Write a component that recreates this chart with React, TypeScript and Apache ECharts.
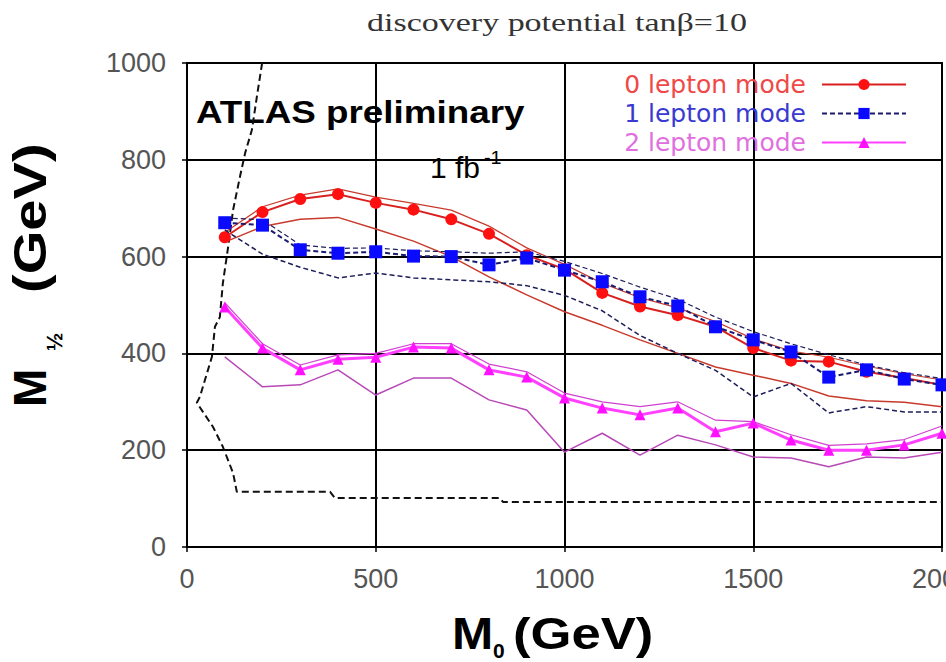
import React, { useEffect, useRef } from "react";
import * as echarts from "echarts";

// ---- axis ticks ----
const xMin = 0;
const xMax = 2000;
const xStep = 500;
const yMin = 0;
const yMax = 1000;
const yStep = 200;

// ---- legend / series names ----
const modeNames = ["0 lepton mode", "1 lepton mode", "2 lepton mode"];

// ---- 0 lepton mode (red) ----
const lep0Main: [number, number][] = [
  [100, 640], [200, 692], [300, 719], [400, 729], [500, 711], [600, 697], [700, 677],
  [800, 647], [900, 603], [1000, 574], [1100, 525], [1200, 497], [1300, 479], [1400, 455],
  [1500, 411], [1600, 385], [1700, 383], [1800, 362], [1900, 349], [2000, 335],
];
const lep0Upper: [number, number][] = [
  [100, 650], [200, 703], [300, 727], [400, 740], [500, 723], [600, 710], [700, 696],
  [800, 663], [900, 618], [1000, 584], [1100, 545], [1200, 515], [1300, 494], [1400, 466],
  [1500, 430], [1600, 405], [1700, 392], [1800, 374], [1900, 358], [2000, 345],
];
const lep0Lower: [number, number][] = [
  [100, 630], [200, 662], [300, 677], [400, 681], [500, 657], [600, 632], [700, 600],
  [800, 558], [900, 521], [1000, 486], [1100, 458], [1200, 428], [1300, 400], [1400, 372],
  [1500, 355], [1600, 338], [1700, 312], [1800, 302], [1900, 299], [2000, 290],
];

// ---- 1 lepton mode (blue) ----
const lep1Main: [number, number][] = [
  [100, 670], [200, 665], [300, 614], [400, 607], [500, 610], [600, 601], [700, 600],
  [800, 583], [900, 597], [1000, 572], [1100, 548], [1200, 517], [1300, 498], [1400, 455],
  [1500, 428], [1600, 403], [1700, 351], [1800, 366], [1900, 347], [2000, 335],
];
const lep1Upper: [number, number][] = [
  [100, 680], [200, 676], [300, 624], [400, 617], [500, 618], [600, 612], [700, 610],
  [800, 607], [900, 610], [1000, 590], [1100, 565], [1200, 537], [1300, 512], [1400, 475],
  [1500, 445], [1600, 420], [1700, 397], [1800, 376], [1900, 360], [2000, 348],
];
const lep1Lower: [number, number][] = [
  [100, 655], [200, 605], [300, 578], [400, 556], [500, 566], [600, 556], [700, 552],
  [800, 548], [900, 540], [1000, 520], [1100, 488], [1200, 437], [1300, 400], [1400, 365],
  [1500, 310], [1600, 338], [1700, 277], [1800, 290], [1900, 279], [2000, 279],
];

// ---- 2 lepton mode (magenta) ----
const lep2Main: [number, number][] = [
  [100, 496], [200, 411], [300, 366], [400, 388], [500, 392], [600, 413], [700, 411],
  [800, 366], [900, 351], [1000, 308], [1100, 287], [1200, 273], [1300, 287], [1400, 238],
  [1500, 256], [1600, 221], [1700, 200], [1800, 200], [1900, 211], [2000, 235],
];
const lep2Upper: [number, number][] = [
  [100, 505], [200, 420], [300, 376], [400, 397], [500, 400], [600, 420], [700, 420],
  [800, 378], [900, 362], [1000, 318], [1100, 300], [1200, 290], [1300, 300], [1400, 262],
  [1500, 259], [1600, 232], [1700, 210], [1800, 213], [1900, 222], [2000, 250],
];
const lep2Lower: [number, number][] = [
  [100, 393], [200, 331], [300, 335], [400, 366], [500, 314], [600, 349], [700, 349],
  [800, 304], [900, 283], [1000, 196], [1100, 235], [1200, 190], [1300, 231], [1400, 211],
  [1500, 186], [1600, 184], [1700, 166], [1800, 186], [1900, 184], [2000, 196],
];

// ---- excluded region boundary (black dashed) ----
const excludedBoundary: [number, number][] = [
  [199, 1000], [185, 930], [172, 862], [154, 814], [140, 764], [122, 696], [109, 620],
  [95, 545], [87, 475], [74, 455], [66, 393], [34, 310], [26, 298], [69, 248], [95, 207],
  [122, 153], [132, 114], [379, 114], [392, 101], [829, 101], [837, 93], [2000, 93],
];

const SANS = "'Liberation Sans', Arial, Helvetica, sans-serif";
const SERIF = "'Liberation Serif', 'Times New Roman', serif";

function thinLine(name: string, data: [number, number][], color: string, width: number, type: any, z: number) {
  return {
    name,
    type: "line",
    data,
    symbol: "none",
    lineStyle: { color, width, type },
    z,
    silent: true,
  };
}

function txt(x: number, y: number, text: string, fontSize: number, opts: any = {}) {
  const { scaleX, bold, family, fill, align } = opts;
  return {
    type: "text",
    x,
    y,
    scaleX: scaleX ?? 1,
    silent: true,
    style: {
      text,
      fontFamily: family ?? SANS,
      fontWeight: bold ? "bold" : "normal",
      fontSize,
      fill: fill ?? "#000",
      align: align ?? "left",
      verticalAlign: "middle",
      textAlign: align ?? "left",
      textVerticalAlign: "middle",
    },
  };
}

export default function App() {
  const ref = useRef<HTMLDivElement>(null);

  useEffect(() => {
    const chart = echarts.init(ref.current!, null, { renderer: "svg" });

    const axisCommon = {
      type: "value",
      axisLine: { show: true, onZero: false, lineStyle: { color: "#000", width: 2 } },
      axisTick: { show: true, length: 5, lineStyle: { color: "#000", width: 1.5 } },
      splitLine: { show: true, lineStyle: { color: "#000", width: 2 } },
    };

    const option: any = {
      animation: false,
      backgroundColor: "#ffffff",
      grid: {
        left: 187,
        right: 4,
        top: 63,
        bottom: 115,
        containLabel: false,
        outerBoundsMode: "none",
        show: true,
        borderColor: "#000",
        borderWidth: 2,
        backgroundColor: "transparent",
      },
      xAxis: {
        ...axisCommon,
        min: xMin,
        max: xMax,
        interval: xStep,
        axisLabel: {
          color: "#555",
          fontSize: 27,
          fontFamily: SANS,
          margin: 18,
          formatter: (v: number) => String(v),
        },
      },
      yAxis: {
        ...axisCommon,
        min: yMin,
        max: yMax,
        interval: yStep,
        axisLabel: {
          color: "#555",
          fontSize: 27,
          fontFamily: SANS,
          margin: 21,
          formatter: (v: number) => String(v),
        },
      },
      legend: {
        orient: "vertical",
        align: "right",
        right: 39,
        top: 72,
        padding: 0,
        itemGap: 4,
        itemWidth: 84,
        itemHeight: 14,
        selectedMode: false,
        textStyle: { fontFamily: "'DejaVu Sans', sans-serif", fontSize: 25, padding: [0, 11, 0, 0] },
        data: [
          { name: modeNames[0], textStyle: { color: "#f04848" } },
          { name: modeNames[1], textStyle: { color: "#3a3ad0" } },
          { name: modeNames[2], textStyle: { color: "#e070e0" } },
        ],
      },
      graphic: [
        txt(557, 22, "discovery potential tanβ=10", 25, {
          scaleX: 1.36,
          family: SERIF,
          fill: "#333",
          align: "center",
        }),
        txt(196, 112, "ATLAS preliminary", 32, { scaleX: 1.15, bold: true }),
        txt(430, 167, "1 fb", 30, { scaleX: 1.0 }),
        txt(484, 158, "-1", 18, { scaleX: 1.1 }),
        // x axis title: M0 (GeV)
        txt(452, 633, "M", 45, { scaleX: 1.1, bold: true }),
        txt(493, 650, "0", 21, { bold: true }),
        txt(513, 633, "(GeV)", 45, { scaleX: 1.17, bold: true }),
        // y axis title: M1/2 (GeV), rotated
        {
          type: "group",
          x: 30,
          y: 407,
          rotation: Math.PI / 2,
          silent: true,
          children: [
            txt(0, 0, "M", 46, { bold: true }),
            txt(56, 24, "½", 22, { bold: true }),
            txt(114, 0, "(GeV)", 46, { scaleX: 1.22, bold: true }),
          ],
        },
      ],
      series: [
        thinLine("excluded", excludedBoundary, "#111", 2, [7, 4], 2),
        thinLine("2 lepton lower", lep2Lower, "#b848b8", 1.5, "solid", 3),
        thinLine("2 lepton upper", lep2Upper, "#d040d0", 1.2, "solid", 3),
        {
          name: modeNames[2],
          type: "line",
          data: lep2Main,
          symbol: "triangle",
          symbolSize: 11,
          itemStyle: { color: "#ff10ff" },
          lineStyle: { color: "#ff40ff", width: 3 },
          z: 4,
        },
        thinLine("0 lepton lower", lep0Lower, "#c83a2c", 1.5, "solid", 5),
        thinLine("0 lepton upper", lep0Upper, "#c83a2c", 1.2, "solid", 5),
        {
          name: modeNames[0],
          type: "line",
          data: lep0Main,
          symbol: "circle",
          symbolSize: 12,
          itemStyle: { color: "#ff1010" },
          lineStyle: { color: "#d82020", width: 2 },
          z: 6,
        },
        thinLine("1 lepton lower", lep1Lower, "#1e1e5a", 1.5, [5, 3], 7),
        thinLine("1 lepton upper", lep1Upper, "#1e1e5a", 1.2, [5, 3], 7),
        {
          name: modeNames[1],
          type: "line",
          data: lep1Main,
          symbol: "rect",
          symbolSize: 13,
          itemStyle: { color: "#0a0aff" },
          lineStyle: { color: "#1a1a70", width: 2, type: [5, 3] },
          z: 8,
        },
      ],
    };

    chart.setOption(option);
    return () => chart.dispose();
  }, []);

  return (
    <div
      ref={ref}
      style={{ position: "fixed", left: 0, top: 0, width: 946, height: 662, background: "#fff" }}
    />
  );
}
